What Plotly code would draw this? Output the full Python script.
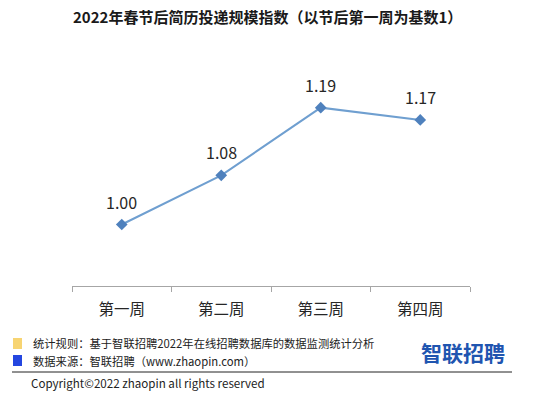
import plotly.graph_objects as go

categories = ["第一周", "第二周", "第三周", "第四周"]
values = [1.00, 1.08, 1.19, 1.17]
labels = ["1.00", "1.08", "1.19", "1.17"]

W, H = 544, 399
L, R, T, B = 72, 74, 40, 113
PW, PH = W - L - R, H - T - B

def px(x):
    return (x - L) / PW

def py(y):
    return (H - B - y) / PH

font = "Noto Sans CJK SC, Microsoft YaHei, sans-serif"

fig = go.Figure()
fig.add_trace(go.Scatter(
    x=categories, y=values, mode="lines+markers",
    line=dict(color="#6f9fd0", width=2),
    marker=dict(symbol="diamond", size=9, color="#4f81bd"),
    hoverinfo="skip", showlegend=False,
))

annotations = []
for c, v, t in zip(categories, values, labels):
    annotations.append(dict(x=c, y=v, text=t, showarrow=False, yshift=23,
                            font=dict(size=16, color="#262626", family=font)))

annotations += [
    dict(xref="paper", yref="paper", x=px(267), y=py(17), text="<b>2022年春节后简历投递规模指数（以节后第一周为基数1）</b>",
         showarrow=False, font=dict(size=15, color="#1a1a1a", family=font), xanchor="center", yanchor="middle"),
    dict(xref="paper", yref="paper", x=px(31), y=py(343), text="统计规则：基于智联招聘2022年在线招聘数据库的数据监测统计分析",
         showarrow=False, font=dict(size=11.3, color="#222222", family=font), xanchor="left", yanchor="middle"),
    dict(xref="paper", yref="paper", x=px(31), y=py(361), text="数据来源：智联招聘（www.zhaopin.com）",
         showarrow=False, font=dict(size=11.3, color="#222222", family=font), xanchor="left", yanchor="middle"),
    dict(xref="paper", yref="paper", x=px(29), y=py(383), text="Copyright©2022 zhaopin all rights reserved",
         showarrow=False, font=dict(size=11.6, color="#222222", family=font), xanchor="left", yanchor="middle"),
    dict(xref="paper", yref="paper", x=px(463), y=py(352), text="<b>智联招聘</b>",
         showarrow=False, font=dict(size=21, color="#1f55b0", family=font), xanchor="center", yanchor="middle"),
]

shapes = [
    dict(type="rect", xref="paper", yref="paper", x0=px(13), x1=px(22), y0=py(338), y1=py(349),
         fillcolor="#f7d472", line=dict(width=0)),
    dict(type="rect", xref="paper", yref="paper", x0=px(13), x1=px(22), y0=py(355), y1=py(366),
         fillcolor="#2446e0", line=dict(width=0)),
    dict(type="line", xref="paper", yref="paper", x0=px(12), x1=px(512), y0=py(372), y1=py(372),
         line=dict(color="#222222", width=1)),
]

fig.update_layout(
    width=W, height=H,
    margin=dict(l=L, r=R, t=T, b=B),
    paper_bgcolor="white", plot_bgcolor="white",
    annotations=annotations, shapes=shapes,
    font=dict(family=font),
    xaxis=dict(type="category", range=[-0.5, 3.5], tickson="boundaries",
               showline=True, linecolor="#a6a6a6", linewidth=1,
               ticks="outside", ticklen=5, tickcolor="#a6a6a6",
               ticklabelstandoff=9,
               tickfont=dict(size=15.5, color="#262626", family=font),
               showgrid=False, zeroline=False, fixedrange=True),
    yaxis=dict(range=[0.9, 1.3], visible=False, showgrid=False, zeroline=False, fixedrange=True),
)

fig.write_html("out.html", config={"displayModeBar": False},
               post_script="document.body.style.margin='0';document.body.style.overflow='hidden';")
